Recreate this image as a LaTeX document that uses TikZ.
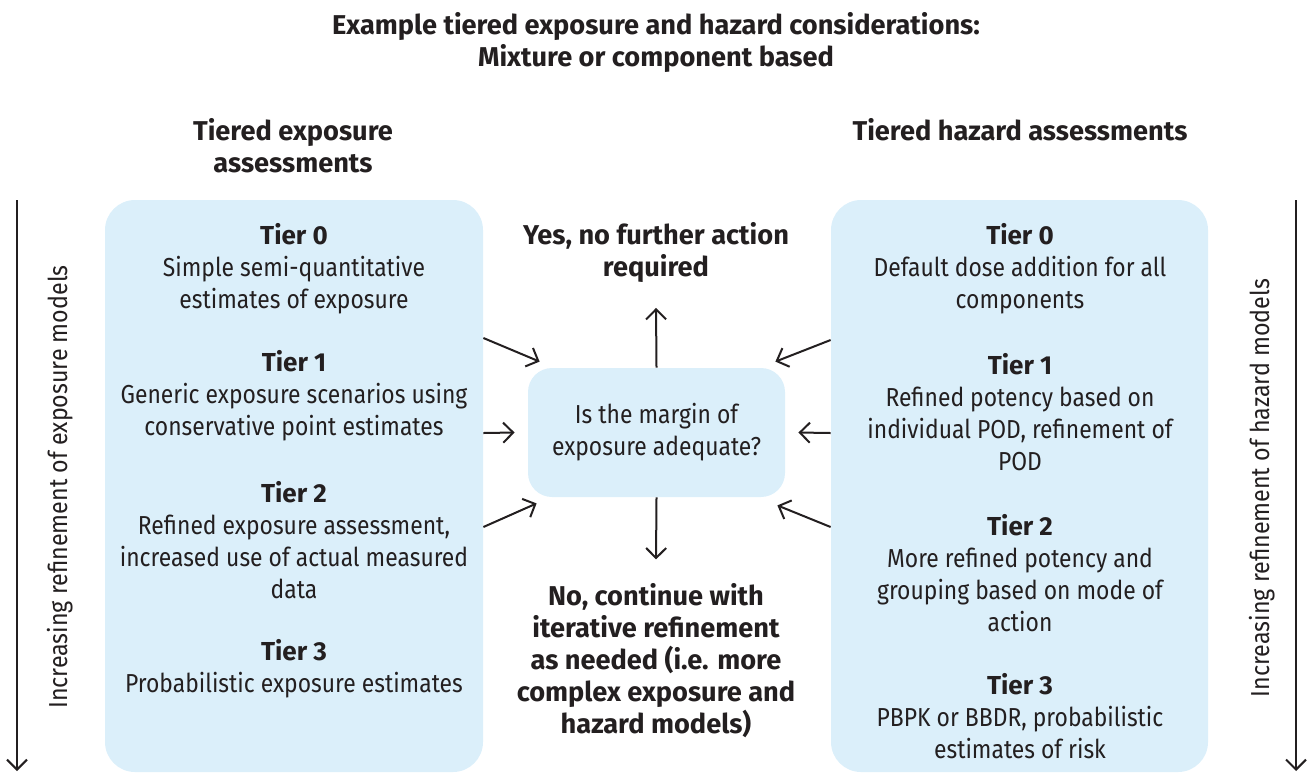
\documentclass[tikz,border=0pt]{standalone}
\usepackage{fontspec}
\setmainfont{Fira Sans}
\newfontfamily\bodyfont[FakeStretch=0.88]{Fira Sans}
\newfontfamily\sidefont[FakeStretch=0.895]{Fira Sans}
\newcommand{\tierlabel}[1]{{\normalfont\bfseries Tier #1}}
\definecolor{panelblue}{RGB}{219, 239, 250}
\definecolor{inkgray}{RGB}{35, 31, 32}
\usetikzlibrary{arrows.meta, positioning, calc}

\tikzset{
  panel/.style={fill=panelblue, rounded corners=15pt, inner sep=0pt},
  body/.style={align=center, text=inkgray, inner sep=0pt, font=\fontsize{13}{16}\selectfont\bodyfont},
  heading/.style={body, font=\fontsize{13.6}{16}\selectfont\bfseries},
  sidelabel/.style={text=inkgray, inner sep=0pt, rotate=90, font=\fontsize{13}{16}\selectfont\sidefont},
  arr/.style={draw=inkgray, line width=1pt, -{Straight Barb[length=5pt, width=10pt, line width=1pt]}}
}

\begin{document}
\begin{tikzpicture}[x=0.5pt, y=-0.5pt]
  \useasboundingbox (0,0) rectangle (1309,772);

  % titles
  \node[heading] (title) at (656,42) {Example tiered exposure and hazard considerations:\\Mixture or component based};
  \node[heading] (expohead) at (293,146) {Tiered exposure\\assessments};
  \node[heading] (hazhead) at (1020,130) {Tiered hazard assessments};

  % panels
  \node[panel, minimum width=189pt, minimum height=286pt] (expo) at (294,486) {};
  \node[panel, minimum width=188.5pt, minimum height=286pt] (haz) at (1019.5,486) {};
  \node[panel, rounded corners=12pt, minimum width=128.5pt, minimum height=64.5pt,
        body] (margin) at (656.5,432.5) {Is the margin of\\exposure adequate?};

  % exposure tiers
  \node[body] (e0) at (294,268.5) {\tierlabel{0}\\Simple semi-quantitative\\estimates of exposure};
  \node[body] (e1) at (294,396) {\tierlabel{1}\\Generic exposure scenarios using\\conservative point estimates};
  \node[body] (e2) at (294,540) {\tierlabel{2}\\Refined exposure assessment,\\increased use of actual measured\\data};
  \node[body] (e3) at (294,669) {\tierlabel{3}\\Probabilistic exposure estimates};

  % hazard tiers
  \node[body] (h0) at (1020,268.5) {\tierlabel{0}\\Default dose addition for all\\components};
  \node[body] (h1) at (1020,412.5) {\tierlabel{1}\\Refined potency based on\\individual POD, refinement of\\POD};
  \node[body] (h2) at (1020,573) {\tierlabel{2}\\More refined potency and\\grouping based on mode of\\action};
  \node[body] (h3) at (1020,716.5) {\tierlabel{3}\\PBPK or BBDR, probabilistic\\estimates of risk};

  % outcomes
  \node[heading] (yes) at (656,252.5) {Yes, no further action\\required};
  \node[heading] (no) at (656,661) {No, continue with\\iterative refinement\\as needed (i.e. more\\complex exposure and\\hazard models)};

  % arrows into the question
  \draw[arr] ($(expo.east)+(0,-148)$) -- ($(margin.north west)+(12,-6)$);
  \draw[arr] ($(expo.east)+(0,-53)$) -- ($(margin.west)+(-13,0)$);
  \draw[arr] ($(expo.east)+(0,41)$) -- ($(margin.south west)+(9,6)$);
  \draw[arr] ($(haz.west)+(0,-146)$) -- ($(margin.north east)+(-10,-6)$);
  \draw[arr] ($(haz.west)+(0,-53)$) -- ($(margin.east)+(13,0)$);
  \draw[arr] ($(haz.west)+(0,41)$) -- ($(margin.south east)+(-8,8)$);

  % arrows out of the question
  \draw[arr] (margin.north) -- ($(yes.south)+(0,25)$);
  \draw[arr] (margin.south) -- ($(no.north)+(0,-24)$);

  % side scales
  \coordinate (ltop) at (17,200);
  \coordinate (lbot) at (17,771);
  \coordinate (rtop) at (1296,200);
  \coordinate (rbot) at (1296,771);
  \draw[arr] (ltop) -- (lbot);
  \draw[arr] (rtop) -- (rbot);
  \node[sidelabel] (lscale) at (60,487) {Increasing refinement of exposure models};
  \node[sidelabel] (rscale) at (1262,488) {Increasing refinement of hazard models};
\end{tikzpicture}
\end{document}
